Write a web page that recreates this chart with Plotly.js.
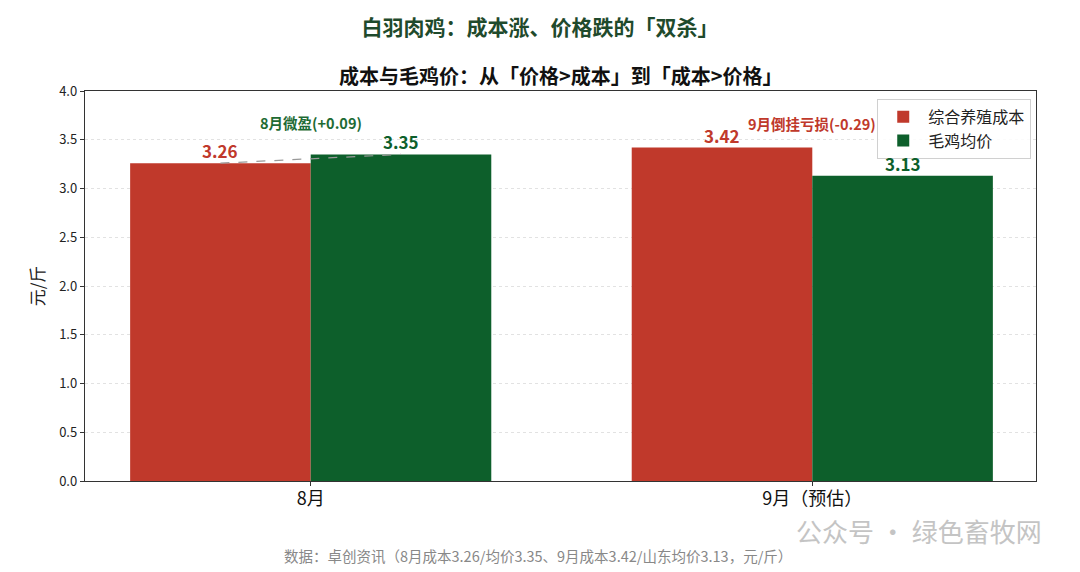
<!DOCTYPE html>
<html>
<head>
<meta charset="utf-8">
<script src="https://cdn.plot.ly/plotly-3.0.1.min.js"></script>
<style>
  body { margin: 0; background: #fff; }
  #chart { width: 1080px; height: 572px; }
</style>
</head>
<body>
<div id="chart"></div>
<script>
// data
let months = ['8月', '9月（预估）'];
let costValues = [3.26, 3.42];    // 综合养殖成本
let priceValues = [3.35, 3.13];   // 毛鸡均价
let seriesNames = ['综合养殖成本', '毛鸡均价'];
let spreadLabels = ['8月微盈(+0.09)', '9月倒挂亏损(-0.29)'];
let spreadLabelY = [3.68, 3.67];
let yTicks = [0, 0.5, 1.0, 1.5, 2.0, 2.5, 3.0, 3.5, 4.0];

let red = '#c0392b';
let green = '#0d5f2b';
let barW = 0.36;
let font = '"Noto Sans CJK SC", "Noto Sans", sans-serif';
let xs = months.map((m, i) => i);

let costTrace = {
  type: 'bar',
  name: seriesNames[0],
  x: xs,
  y: costValues,
  width: barW,
  offset: -barW,
  marker: {color: red, line: {width: 0}},
  hoverinfo: 'y'
};

let priceTrace = {
  type: 'bar',
  name: seriesNames[1],
  x: xs,
  y: priceValues,
  width: barW,
  offset: 0,
  marker: {color: green, line: {width: 0}},
  hoverinfo: 'y'
};

// dashed link between the two August bars
let linkTrace = {
  type: 'scatter',
  mode: 'lines',
  x: [xs[0] - barW / 2, xs[0] + barW / 2],
  y: [costValues[0], priceValues[0]],
  line: {color: '#999', width: 1.2, dash: 'dash'},
  showlegend: false,
  hoverinfo: 'skip'
};

let annotations = [];
xs.forEach((x, i) => {
  annotations.push({
    x: x - barW / 2, y: costValues[i], yshift: -2,
    text: '<b>' + costValues[i].toFixed(2) + '</b>',
    showarrow: false, yanchor: 'bottom',
    font: {family: font, size: 17, color: red}
  });
  annotations.push({
    x: x + barW / 2, y: priceValues[i], yshift: -2,
    text: '<b>' + priceValues[i].toFixed(2) + '</b>',
    showarrow: false, yanchor: 'bottom',
    font: {family: font, size: 17, color: green}
  });
  annotations.push({
    x: x, y: spreadLabelY[i],
    text: '<b>' + spreadLabels[i] + '</b>',
    showarrow: false, yanchor: 'middle',
    font: {family: font, size: 14.5, color: i === 0 ? '#1e6b34' : red}
  });
});

// subtitle, footnote and watermark
annotations.push({
  xref: 'paper', yref: 'paper', x: 0.5, y: 1, yshift: 16,
  text: '<b>成本与毛鸡价：从「价格>成本」到「成本>价格」</b>',
  showarrow: false, yanchor: 'middle',
  font: {family: font, size: 20, color: '#111'}
});
annotations.push({
  xref: 'paper', yref: 'paper', x: 0.476, y: 0, yshift: -74,
  text: '数据：卓创资讯（8月成本3.26/均价3.35、9月成本3.42/山东均价3.13，元/斤）',
  showarrow: false, yanchor: 'middle',
  font: {family: font, size: 14.5, color: '#888'}
});
annotations.push({
  xref: 'paper', yref: 'paper', x: 1.008, y: 0, yshift: -49, xanchor: 'right',
  text: '公众号 · 绿色畜牧网',
  showarrow: false, yanchor: 'middle',
  font: {family: font, size: 26, color: '#c4c4c4'}
});

let layout = {
  width: 1080,
  height: 572,
  margin: {l: 85, r: 44, t: 91, b: 91},
  paper_bgcolor: '#fff',
  plot_bgcolor: '#fff',
  font: {family: font, color: '#222'},
  title: {
    text: '<b>白羽肉鸡：成本涨、价格跌的「双杀」</b>',
    x: 0.5, xanchor: 'center', y: 0.952, yanchor: 'middle',
    font: {family: font, size: 21, color: '#1f4a2c'}
  },
  barmode: 'overlay',
  xaxis: {
    range: [-0.45, 1.446],
    tickvals: xs,
    ticktext: months,
    tickfont: {family: font, size: 18, color: '#111'},
    ticks: 'outside', ticklen: 4, tickcolor: '#333',
    ticklabelstandoff: -3,
    showline: true, linecolor: '#333', linewidth: 1.2, mirror: true,
    showgrid: false, zeroline: false, fixedrange: true
  },
  yaxis: {
    range: [0, 4.0],
    tickvals: yTicks,
    ticktext: yTicks.map(v => v.toFixed(1)),
    tickfont: {family: font, size: 13, color: '#222'},
    ticks: 'outside', ticklen: 4, tickcolor: '#333',
    showline: true, linecolor: '#333', linewidth: 1.2, mirror: true,
    showgrid: true, gridcolor: '#e2e2e2', griddash: 'dot', gridwidth: 1,
    zeroline: false, layer: 'above traces', fixedrange: true,
    title: {text: '元/斤', font: {family: font, size: 17, color: '#222'}, standoff: 10}
  },
  legend: {
    x: 0.995, y: 0.98, xanchor: 'right', yanchor: 'top',
    bgcolor: 'rgba(255,255,255,0.85)',
    bordercolor: '#d0d0d0', borderwidth: 1,
    font: {family: font, size: 16, color: '#222'},
    itemwidth: 40,
    traceorder: 'normal'
  },
  annotations: annotations,
  showlegend: true
};

Plotly.newPlot('chart', [costTrace, priceTrace, linkTrace], layout, {displayModeBar: false, staticPlot: true});
</script>
</body>
</html>
